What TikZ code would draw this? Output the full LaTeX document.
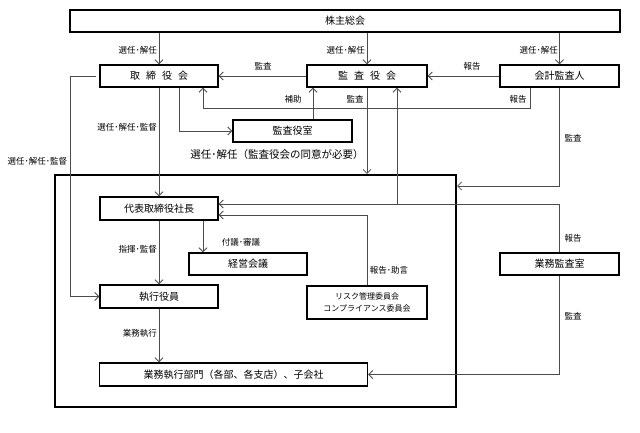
\documentclass[tikz,border=0pt]{standalone}
\usepackage{fontspec}
\newfontfamily\jp{Noto Sans CJK JP}
\usetikzlibrary{arrows.meta}
\tikzset{
  box/.style={draw=black, line width=1.4pt, minimum height=22pt, inner sep=0pt, font=\jp\fontsize{10}{12}\selectfont, fill=white},
  lbl/.style={inner sep=0pt, font=\jp\fontsize{8.5}{10}\selectfont},
  conn/.style={draw=black!70, line width=0.8pt},
  arr/.style={conn, -{Straight Barb[length=4pt,width=8pt]}},
  outer/.style={draw=black, line width=2.2pt, inner sep=0pt}
}
\begin{document}
\begin{tikzpicture}[x=1pt,y=-1pt]
\useasboundingbox (0,0) rectangle (640,432);
% frame
\node[outer, minimum width=401pt, minimum height=232pt] (fr) at (255.5,291) {};
% boxes
\node[box, minimum width=550pt] (sh) at (345,21) {株主総会};
\node[box, minimum width=118pt] (tb) at (159,76) {取\hspace{6pt}締\hspace{6pt}役\hspace{6pt}会};
\node[box, minimum width=120pt] (ka) at (367,76) {監\hspace{6pt}査\hspace{6pt}役\hspace{6pt}会};
\node[box, minimum width=119pt] (kk) at (559.5,76) {会計監査人};
\node[box, minimum width=119pt] (ks) at (292.5,131) {監査役室};
\node[box, minimum width=118pt, minimum height=23pt] (dt) at (159,208.5) {代表取締役社長};
\node[box, minimum width=118pt] (kg) at (248,264) {経営会議};
\node[box, minimum width=118pt, minimum height=23pt] (sy) at (159,296.5) {執行役員};
\node[box, minimum width=120pt, minimum height=33pt, align=center, font=\jp\fontsize{8}{12}\selectfont] (risk) at (367,302.5) {リスク管理委員会\\コンプライアンス委員会};
\node[box, minimum width=119pt] (gk) at (559.5,264) {業務監査室};
\node[box, minimum width=268pt, minimum height=23pt] (bu) at (233.5,374.5) {業務執行部門（各部、各支店）、子会社};
% coordinates
\coordinate (c1) at (203,108);
\coordinate (c2) at (70,76);
\coordinate (c3) at (559.5,186);
\coordinate (c4) at (559.5,204);
\coordinate (c5) at (397,204);
\coordinate (c6) at (367,215);
% connectors
\draw[arr] (sh.south -| tb.north) -- (tb.north);
\draw[arr] (sh.south -| ka.north) -- (ka.north);
\draw[arr] (sh.south -| kk.north) -- (kk.north);
\draw[arr] (kk.west) -- (ka.east);
\draw[arr] (ka.west) -- (tb.east);
\draw[arr] ([xshift=-29.5pt]kk.south) |- (c1) -- (c1 |- tb.south);
\draw[arr] ([xshift=20.5pt]ks.north) -- ([xshift=20.5pt]ks.north |- ka.south);
\draw[arr] (ka.south) -- (ka.south |- fr.north);
\draw[arr] ([xshift=20pt]tb.south) |- (ks.west);
\draw[arr] (tb.south) -- (dt.north);
\draw[arr] ([xshift=-3pt]tb.west) -- (c2) |- (sy.west);
\draw[arr] (kk.south) -- (c3) -- (c3 -| fr.east);
\draw[arr] (gk.north) -- (c4) -- (c4 -| dt.east);
\draw[arr] (c5) -- (c5 |- ka.south);
\draw[arr] (risk.north) -- (c6) -- (c6 -| dt.east);
\draw[arr] ([xshift=44pt]dt.south) -- ([xshift=44pt]dt.south |- kg.north);
\draw[arr] (dt.south) -- (sy.north);
\draw[arr] (sy.south) -- (sy.south |- bu.north);
\draw[arr] (gk.south) |- (bu.east);
% labels
\node[lbl, anchor=east] (l1) at (157,50) {選任･解任};
\node[lbl, anchor=east] (l2) at (365,50) {選任･解任};
\node[lbl, anchor=east] (l3) at (558,50) {選任･解任};
\node[lbl] (l4) at (263,66) {監査};
\node[lbl] (l5) at (472,66) {報告};
\node[lbl] (l6) at (293,99) {補助};
\node[lbl] (l7) at (355,99) {監査};
\node[lbl] (l8) at (518,99) {報告};
\node[lbl, anchor=east] (l9) at (157,127) {選任･解任･監督};
\node[lbl] (l10) at (37.5,161) {選任･解任･監督};
\node[lbl, font=\jp\fontsize{10.5}{12}\selectfont] (l11) at (277,155) {選任･解任（監査役会の同意が必要）};
\node[lbl] (l12) at (573,138) {監査};
\node[lbl] (l13) at (241,242) {付議･審議};
\node[lbl, anchor=east] (l14) at (157,249) {指揮･監督};
\node[lbl] (l15) at (389,270) {報告･助言};
\node[lbl] (l16) at (573,238) {報告};
\node[lbl, anchor=east] (l17) at (157,333) {業務執行};
\node[lbl] (l18) at (573,316) {監査};
\end{tikzpicture}
\end{document}
